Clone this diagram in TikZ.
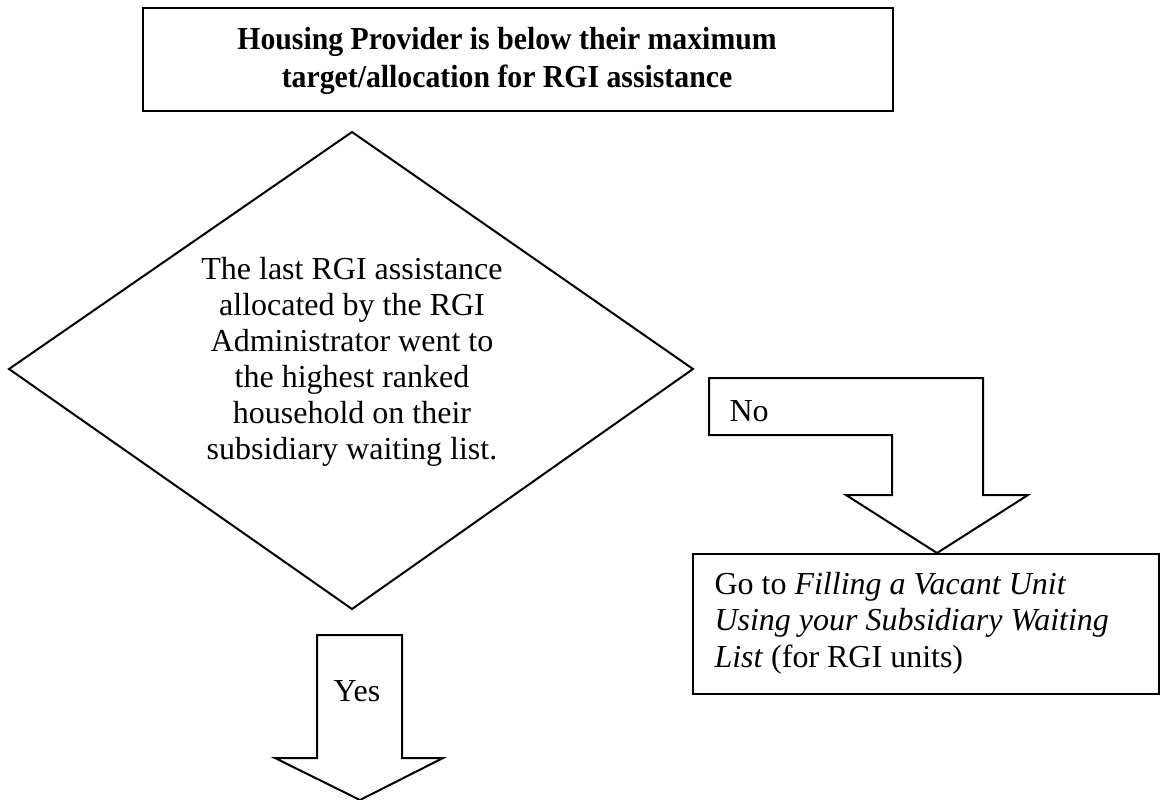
\documentclass[tikz,border=0pt]{standalone}
\usepackage{fontspec}
\setmainfont{Liberation Serif}
\newfontfamily\titlefont[FakeStretch=0.93]{Liberation Serif}
\begin{document}
\begin{tikzpicture}[x=0.375pt,y=-0.375pt,
  shapeline/.style={draw=black, line width=0.75pt, line join=miter},
  txt/.style={font=\fontsize{12}{13.5}\selectfont, inner sep=0pt, align=center},
  ltxt/.style={font=\fontsize{12}{13.7}\selectfont, inner sep=0pt, align=left}]
\useasboundingbox (0,0) rectangle (1161,800);
% top box
\draw[shapeline] (143,8) rectangle (893,111);
\node[txt, font=\titlefont\bfseries\fontsize{12}{14.25}\selectfont] (title) at (507,61)
  {Housing Provider is below their maximum\\target/allocation for RGI assistance};
% decision diamond
\draw[shapeline] (352,132) -- (693,369) -- (352,609) -- (9,369) -- cycle;
\node[txt] (decision) at (352,362)
  {The last RGI assistance\\allocated by the RGI\\Administrator went to\\the highest ranked\\household on their\\subsidiary waiting list.};
% No bent block arrow
\draw[shapeline] (709,378) -- (983,378) -- (983,495) -- (1028,495) -- (937,553)
  -- (846,495) -- (892,495) -- (892,435) -- (709,435) -- cycle;
\node[txt, anchor=west] (no) at (729,411) {No};
% Go to box
\draw[shapeline] (693,554) rectangle (1159,694);
\node[ltxt, anchor=west] (goto) at (714,623)
  {Go to \textit{Filling a Vacant Unit}\\\textit{Using your Subsidiary Waiting}\\\textit{List} (for RGI units)};
% Yes block arrow
\draw[shapeline] (317,635) -- (402,635) -- (402,758) -- (443,758) -- (360,800)
  -- (275,758) -- (317,758) -- cycle;
\node[txt] (yes) at (357,691) {Yes};
\end{tikzpicture}
\end{document}
